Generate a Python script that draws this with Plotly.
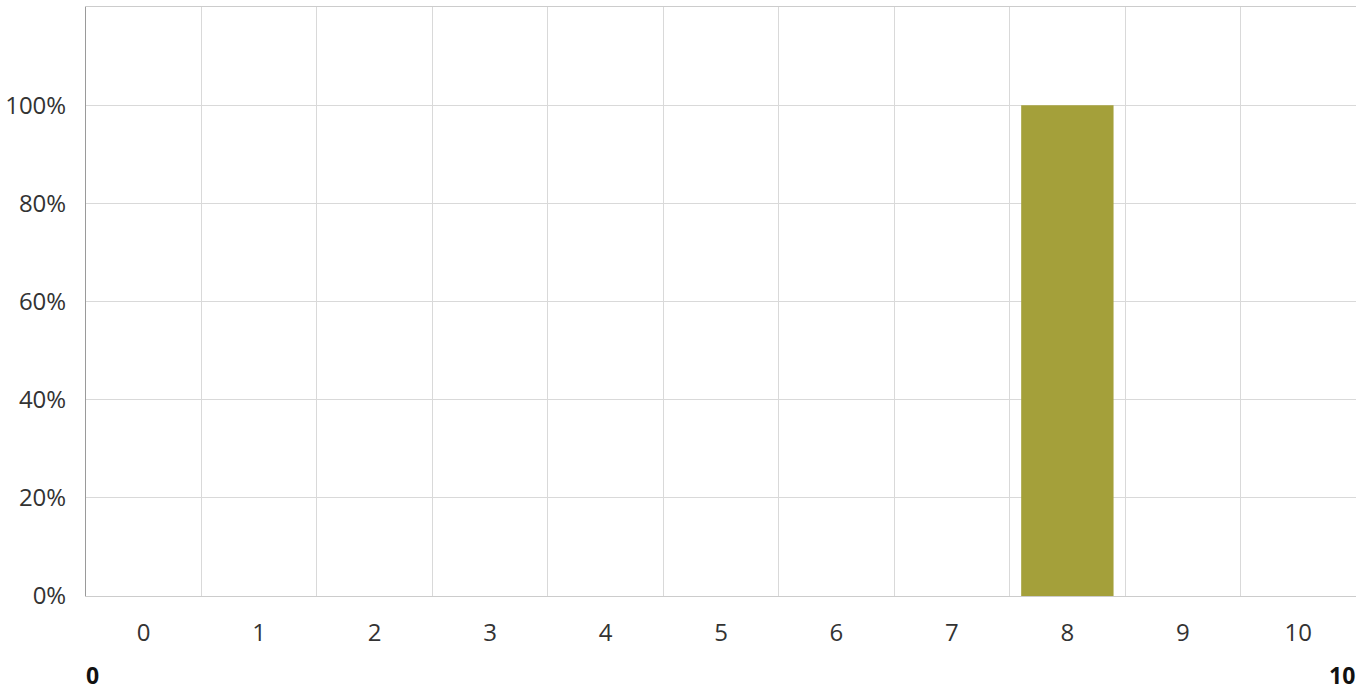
import plotly.graph_objects as go

categories = [str(i) for i in range(11)]
values = [0, 0, 0, 0, 0, 0, 0, 0, 100, 0, 0]
y_ticks = [0, 20, 40, 60, 80, 100, 120]
y_tick_labels = ["0%", "20%", "40%", "60%", "80%", "100%", ""]
scale_min_label = "0"
scale_max_label = "10"

font_family = "Open Sans, Noto Sans, sans-serif"

fig = go.Figure(go.Bar(
    x=categories, y=values,
    marker=dict(color="#A4A03A", line=dict(width=0)),
    width=0.8,
    hoverinfo="skip",
))

fig.update_layout(
    width=1369, height=690,
    margin=dict(l=86, r=13, t=7, b=94),
    paper_bgcolor="white", plot_bgcolor="white",
    showlegend=False,
    font=dict(family=font_family, size=24, color="#333333"),
    xaxis=dict(
        type="category",
        tickson="boundaries",
        showgrid=True, gridcolor="#d9d9d9", gridwidth=1,
        showline=True, linecolor="#cccccc", linewidth=1,
        mirror=True, automargin=False,
        ticks="", ticklabelstandoff=15,
        range=[-0.5, 10.5],
        zeroline=False,
    ),
    yaxis=dict(
        range=[0, 120],
        tickvals=y_ticks, ticktext=y_tick_labels,
        showgrid=True, gridcolor="#d9d9d9", gridwidth=1,
        showline=True, linecolor="#9a9a9a", linewidth=1,
        automargin=False,
        ticks="", ticklabelstandoff=14,
        zeroline=False,
    ),
    annotations=[
        dict(text="<b>" + scale_min_label + "</b>", xref="paper", yref="paper",
             x=0, y=0, xanchor="left", yanchor="middle", yshift=-79, xshift=-2,
             showarrow=False, font=dict(size=23, color="#111111", family=font_family)),
        dict(text="<b>" + scale_max_label + "</b>", xref="paper", yref="paper",
             x=1, y=0, xanchor="right", yanchor="middle", yshift=-79, xshift=1,
             showarrow=False, font=dict(size=23, color="#111111", family=font_family)),
    ],
)

fig.write_html("out.html", config={"displayModeBar": False},
               post_script="document.body.style.margin='0';")
